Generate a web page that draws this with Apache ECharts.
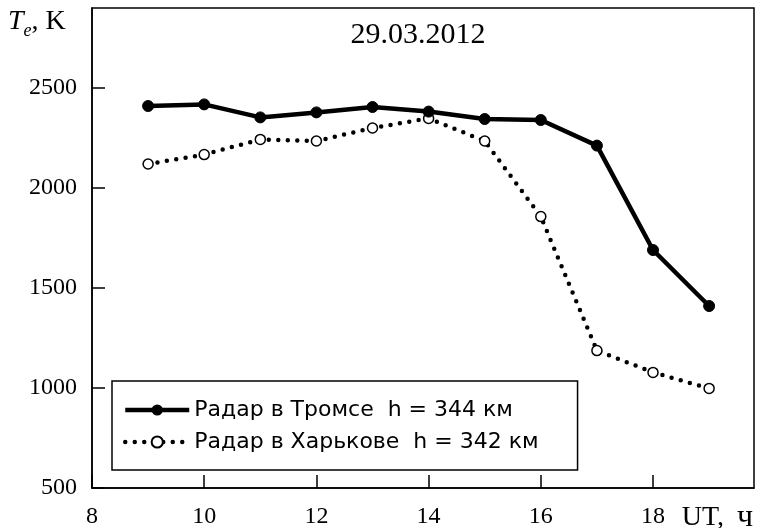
<!DOCTYPE html>
<html>
<head>
<meta charset="utf-8">
<script src="https://cdn.jsdelivr.net/npm/echarts@6/dist/echarts.min.js"></script>
<style>
  html, body { margin: 0; padding: 0; background: #fff; }
  #chart { width: 761px; height: 528px; }
</style>
</head>
<body>
<div id="chart"></div>
<script>
// UT hours
const hours = [9, 10, 11, 12, 13, 14, 15, 16, 17, 18, 19];
// Te, K
const tromso = [2410, 2418, 2353, 2378, 2405, 2382, 2345, 2340, 2212, 1690, 1410];
const kharkiv = [2120, 2167, 2243, 2235, 2300, 2348, 2235, 1857, 1187, 1078, 998];
const yTicks = [500, 1000, 1500, 2000, 2500];
const xTicks = [8, 10, 12, 14, 16, 18];
const names = ['Радар в Тромсе  h = 344 км', 'Радар в Харькове  h = 342 км'];

const serif = '"Liberation Serif", "Times New Roman", serif';
const sans = '"DejaVu Sans", Arial, sans-serif';

const chart = echarts.init(document.getElementById('chart'));

const solidLine = { color: '#000', width: 4.5 };
const dotLine = { color: '#000', width: 4.5, type: [0, 9.5], cap: 'round' };

chart.setOption({
  animation: false,
  backgroundColor: '#fff',
  grid: {
    left: 92, right: 7, top: 8, bottom: 40,
    outerBoundsMode: 'none',
    show: true, borderColor: '#000', borderWidth: 1.5
  },
  title: {
    text: '29.03.2012',
    left: 413, top: 15,
    textAlign: 'center',
    textStyle: { fontFamily: serif, fontSize: 30, fontWeight: 'normal', color: '#000' }
  },
  graphic: [
    {
      type: 'text', left: 8, top: 8,
      style: {
        text: '{i|T}{s|e}{n|, K}',
        rich: {
          i: { fontFamily: serif, fontStyle: 'italic', fontSize: 28, fill: '#000' },
          s: { fontFamily: serif, fontStyle: 'italic', fontSize: 18, fill: '#000', padding: [18, 0, 0, 0] },
          n: { fontFamily: serif, fontSize: 28, fill: '#000' }
        }
      }
    }
  ],
  legend: {
    left: 112, top: 381,
    orient: 'vertical',
    backgroundColor: '#fff',
    borderColor: '#000', borderWidth: 1.5, borderRadius: 0,
    padding: [18, 39, 17, 11],
    itemGap: 10,
    itemWidth: 64, itemHeight: 14,
    textStyle: { fontFamily: sans, fontSize: 22, color: '#000' },
    data: [
      { name: names[0], lineStyle: solidLine },
      { name: names[1], lineStyle: dotLine }
    ]
  },
  xAxis: {
    type: 'value',
    min: 8, max: 19.8, interval: 2,
    axisLine: { lineStyle: { color: '#000', width: 1.5 } },
    axisTick: { inside: true, length: 13, lineStyle: { color: '#000', width: 1.5 } },
    splitLine: { show: false },
    axisLabel: {
      margin: 17, showMaxLabel: false,
      fontFamily: serif, fontSize: 24, color: '#000',
      formatter: v => xTicks.includes(v) ? String(v) : ''
    },
    name: '{a|UT,} {b|ч}',
    nameLocation: 'end',
    nameGap: -1,
    nameTextStyle: {
      fontFamily: serif, fontSize: 28, color: '#000',
      align: 'right', verticalAlign: 'top', padding: [14, 0, 0, 0],
      rich: {
        a: { fontFamily: serif, fontSize: 28, color: '#000' },
        b: { fontFamily: serif, fontSize: 32, color: '#000', padding: [0, 0, 0, 6] }
      }
    }
  },
  yAxis: {
    type: 'value',
    min: 500, max: 2900, interval: 500,
    axisLine: { lineStyle: { color: '#000', width: 1.5 } },
    axisTick: { inside: true, length: 13, lineStyle: { color: '#000', width: 1.5 } },
    splitLine: { show: false },
    axisLabel: {
      margin: 15, showMaxLabel: false,
      fontFamily: serif, fontSize: 24, color: '#000',
      formatter: v => yTicks.includes(v) ? String(v) : ''
    }
  },
  series: [
    {
      name: names[0],
      type: 'line',
      data: hours.map((h, i) => [h, tromso[i]]),
      symbol: 'circle', symbolSize: 11,
      lineStyle: solidLine,
      itemStyle: { color: '#000', borderColor: '#000' },
      z: 3
    },
    {
      name: names[1],
      type: 'line',
      data: hours.map((h, i) => [h, kharkiv[i]]),
      symbol: 'circle', symbolSize: 10,
      lineStyle: dotLine,
      itemStyle: { color: '#fff', borderColor: '#000', borderWidth: 1.5 },
      z: 2
    }
  ]
});
</script>
</body>
</html>
